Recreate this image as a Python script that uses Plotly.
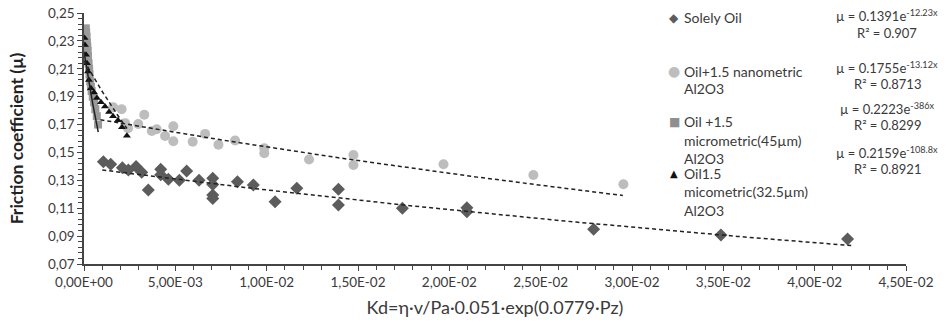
import numpy as np
import plotly.graph_objects as go

# ---------------- data ----------------
oil_x = [1.06e-3, 1.46e-3, 2.10e-3, 2.43e-3, 2.85e-3, 3.16e-3, 3.52e-3, 4.20e-3, 4.20e-3,
         4.62e-3, 5.22e-3, 5.62e-3, 6.30e-3, 7.05e-3, 7.05e-3, 7.05e-3, 7.05e-3, 8.40e-3,
         9.27e-3, 10.46e-3, 11.65e-3, 13.93e-3, 13.93e-3, 17.43e-3, 20.96e-3, 20.96e-3,
         27.9e-3, 34.87e-3, 41.8e-3]
oil_y = [0.1434, 0.1415, 0.1390, 0.1374, 0.1400, 0.1358, 0.1230, 0.1380, 0.1340,
         0.1308, 0.1300, 0.1367, 0.1300, 0.1315, 0.1270, 0.1195, 0.1170, 0.1290,
         0.1267, 0.1147, 0.1243, 0.1236, 0.1123, 0.1100, 0.1104, 0.1075,
         0.0949, 0.0908, 0.0879]

nano_x = [1.60e-3, 2.06e-3, 2.25e-3, 2.41e-3, 2.97e-3, 3.30e-3, 3.71e-3, 3.98e-3, 4.44e-3,
          4.89e-3, 4.89e-3, 5.95e-3, 6.63e-3, 7.36e-3, 8.27e-3, 9.87e-3, 9.87e-3,
          12.32e-3, 14.75e-3, 14.75e-3, 19.68e-3, 24.6e-3, 29.53e-3]
nano_y = [0.1824, 0.1810, 0.1710, 0.1673, 0.1704, 0.1770, 0.1654, 0.1666, 0.1618,
          0.1688, 0.1580, 0.1577, 0.1633, 0.1556, 0.1586, 0.1530, 0.1494,
          0.1450, 0.1482, 0.1410, 0.1415, 0.1338, 0.1272]

micro45_x = [0.10e-3, 0.12e-3, 0.14e-3, 0.16e-3, 0.18e-3, 0.20e-3, 0.22e-3, 0.25e-3, 0.28e-3,
             0.30e-3, 0.34e-3, 0.38e-3, 0.42e-3, 0.48e-3, 0.55e-3, 0.62e-3, 0.70e-3, 0.77e-3]
micro45_y = [0.2390, 0.2360, 0.2330, 0.2290, 0.2260, 0.2230, 0.2190, 0.2140, 0.2100,
             0.2060, 0.2010, 0.1970, 0.1940, 0.1900, 0.1860, 0.1810, 0.1760, 0.1700]

micro32_x = [0.03e-3, 0.05e-3, 0.11e-3, 0.16e-3, 0.22e-3, 0.27e-3, 0.38e-3, 0.55e-3, 0.71e-3,
             0.93e-3, 1.15e-3, 1.37e-3, 1.59e-3, 1.86e-3, 2.08e-3, 2.35e-3]
micro32_y = [0.2320, 0.2270, 0.2200, 0.2140, 0.2080, 0.2020, 0.1960, 0.1930, 0.1890,
             0.1860, 0.1830, 0.1790, 0.1760, 0.1730, 0.1680, 0.1620]

# exponential trend lines  mu = a * exp(b x), as printed on the chart
fit_a = [0.1391, 0.1755, 0.2223, 0.2159]
fit_b = [-12.23, -13.12, -386.0, -108.8]
fit_xmin = [1.0e-3, 0.9e-3, 0.0, 0.0]
fit_xmax = [42.0e-3, 29.5e-3, 0.78e-3, 2.35e-3]
fit_r2 = ["0.907", "0.8713", "0.8299", "0.8921"]
fit_exp_txt = ["-12.23x", "-13.12x", "-386x", "-108.8x"]

series_names = ["Solely Oil", "Oil+1.5 nanometric<br>Al2O3",
                "Oil +1.5<br>micrometric(45µm)<br>Al2O3",
                "Oil1.5<br>micometric(32.5µm)<br>Al2O3"]

x_tickvals = [0, 0.005, 0.01, 0.015, 0.02, 0.025, 0.03, 0.035, 0.04, 0.045]
x_ticktext = ["0,00E+00", "5,00E-03", "1,00E-02", "1,50E-02", "2,00E-02",
              "2,50E-02", "3,00E-02", "3,50E-02", "4,00E-02", "4,50E-02"]
y_tickvals = [0.07, 0.09, 0.11, 0.13, 0.15, 0.17, 0.19, 0.21, 0.23, 0.25]
y_ticktext = ["0,07", "0,09", "0,11", "0,13", "0,15", "0,17", "0,19", "0,21", "0,23", "0,25"]

# ---------------- layout geometry ----------------
W, H = 949, 328
L, R, T, B = 84, 906, 13, 264
FONT = "Lato"
TXT = "#3a3a3a"


def px(xp):
    return (xp - L) / (R - L)


def py(yp):
    return (B - yp) / (B - T)


fig = go.Figure()

# markers
fig.add_trace(go.Scatter(x=nano_x, y=nano_y, mode="markers",
                         marker=dict(symbol="circle", size=10, color="#bdbdbd"),
                         showlegend=False))
fig.add_trace(go.Scatter(x=micro45_x, y=micro45_y, mode="markers",
                         marker=dict(symbol="square", size=8, color="#9a9a9a"),
                         showlegend=False))
fig.add_trace(go.Scatter(x=oil_x, y=oil_y, mode="markers",
                         marker=dict(symbol="diamond", size=10, color="#5c5c5c"),
                         showlegend=False))
fig.add_trace(go.Scatter(x=micro32_x, y=micro32_y, mode="markers",
                         marker=dict(symbol="triangle-up", size=7, color="#111111"),
                         showlegend=False))

# trend lines
dashes = ["4px,3px", "4px,3px", "solid", "4px,3px"]
for a, b, x0, x1, d in zip(fit_a, fit_b, fit_xmin, fit_xmax, dashes):
    xs = np.linspace(x0, x1, 80)
    fig.add_trace(go.Scatter(x=xs, y=a * np.exp(b * xs), mode="lines",
                             line=dict(color="#222222", width=1.5, dash=d),
                             showlegend=False, hoverinfo="skip"))

# custom legend
leg_sym = ["◆", "●", "■", "▲"]
leg_col = ["#5c5c5c", "#bdbdbd", "#8f8f8f", "#111111"]
leg_size = [12, 14, 12, 10]
leg_y = [18, 71, 122, 173]
line_gap = [0, 17.5, 18.2, 18.5]
for name, sym, col, sz, yy, gap in zip(series_names, leg_sym, leg_col, leg_size, leg_y, line_gap):
    lines = name.split("<br>")
    fig.add_annotation(x=px(674), y=py(yy), xref="paper", yref="paper",
                       text=sym, showarrow=False, xanchor="center", yanchor="middle",
                       font=dict(family="DejaVu Sans", size=sz, color=col))
    for i, ln in enumerate(lines):
        fig.add_annotation(x=px(682), y=py(yy + i * gap), xref="paper", yref="paper",
                           text=ln, showarrow=False, xanchor="left", yanchor="middle",
                           font=dict(family=FONT, size=14, color=TXT))

# equations
eq_y = [16, 67, 108, 152]
for a, et, r2, yy in zip(fit_a, fit_exp_txt, fit_r2, eq_y):
    fig.add_annotation(x=px(887), y=py(yy), xref="paper", yref="paper",
                       text="µ = %se<sup>%s</sup>" % (("%.4f" % a).rstrip("0"), et),
                       showarrow=False, xanchor="center", yanchor="middle",
                       font=dict(family=FONT, size=13, color=TXT))
    fig.add_annotation(x=px(887), y=py(yy + 17), xref="paper", yref="paper",
                       text="R² = %s" % r2, showarrow=False, xanchor="center", yanchor="middle",
                       font=dict(family=FONT, size=13, color=TXT))

axis_common = dict(showgrid=False, zeroline=False, showline=True, linecolor="#444444",
                   linewidth=1.5, ticks="outside", ticklen=5, tickwidth=1.2,
                   tickcolor="#444444", tickfont=dict(family=FONT, size=13.5, color=TXT))

fig.update_xaxes(range=[0, 0.045], tickmode="array", tickvals=x_tickvals, ticktext=x_ticktext,
                 minor=dict(tickmode="linear", tick0=0, dtick=0.001, ticks="outside",
                            ticklen=4, tickwidth=1, tickcolor="#444444"),
                 title=dict(text="Kd=η·v/Pa·0.051·exp(0.0779·Pz)", standoff=12,
                            font=dict(family=FONT, size=18, color=TXT)),
                 **axis_common)
fig.update_yaxes(range=[0.07, 0.25], tickmode="array", tickvals=y_tickvals, ticktext=y_ticktext,
                 minor=dict(tickmode="linear", tick0=0.07, dtick=0.004, ticks="outside",
                            ticklen=4, tickwidth=1, tickcolor="#444444"),
                 title=dict(text="<b>Friction coefficient (µ)</b>", standoff=20,
                            font=dict(family=FONT, size=17.5, color="#222222")),
                 **axis_common)

fig.update_layout(width=W, height=H, plot_bgcolor="white", paper_bgcolor="white",
                  margin=dict(l=L, r=W - R, t=T, b=H - B, autoexpand=False),
                  showlegend=False)

fig.write_html("out.html", config={"displayModeBar": False},
               post_script="document.body.style.margin='0px';document.body.style.overflow='hidden';")
